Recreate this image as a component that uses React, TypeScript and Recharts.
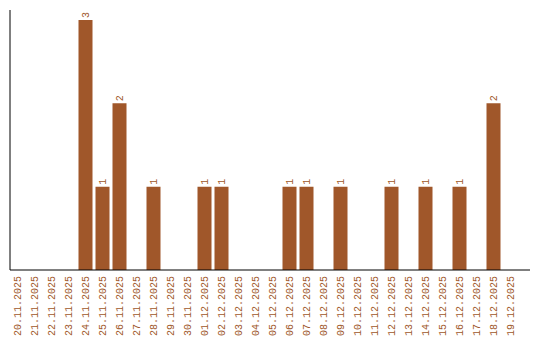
import React from 'react'
import { BarChart, Bar, XAxis, YAxis, LabelList } from 'recharts'

const dates = [
  '20.11.2025', '21.11.2025', '22.11.2025', '23.11.2025', '24.11.2025', '25.11.2025',
  '26.11.2025', '27.11.2025', '28.11.2025', '29.11.2025', '30.11.2025', '01.12.2025',
  '02.12.2025', '03.12.2025', '04.12.2025', '05.12.2025', '06.12.2025', '07.12.2025',
  '08.12.2025', '09.12.2025', '10.12.2025', '11.12.2025', '12.12.2025', '13.12.2025',
  '14.12.2025', '15.12.2025', '16.12.2025', '17.12.2025', '18.12.2025', '19.12.2025',
]
const counts = [0, 0, 0, 0, 3, 1, 2, 0, 1, 0, 0, 1, 1, 0, 0, 0, 1, 1, 0, 1, 0, 0, 1, 0, 1, 0, 1, 0, 2, 0]

const data = dates.map((d, i) => ({ date: d, count: counts[i] }))

const BROWN = '#A0572A'
const FONT = '"Liberation Mono", monospace'

function DateTick(props: any) {
  const { x, y, payload } = props
  return (
    <g transform={`translate(${x + 3.5},${y}) rotate(-90)`}>
      <text textAnchor="end" fontSize={10} fontFamily={FONT} fill={BROWN}>
        {payload.value}
      </text>
    </g>
  )
}

function TopLabel(props: any) {
  const { x, y, width, value } = props
  if (!value) return null
  return (
    <g transform={`translate(${x + width / 2 + 3.5},${y - 2}) rotate(-90)`}>
      <text textAnchor="start" fontSize={10} fontFamily={FONT} fill={BROWN}>
        {value}
      </text>
    </g>
  )
}

export default function App() {
  return (
    <div style={{ position: 'fixed', left: 0, top: 0, width: 540, height: 340, background: '#fff' }}>
      <BarChart width={540} height={340} data={data} margin={{ top: 10, right: 10, bottom: 0, left: 8 }}>
        <XAxis
          dataKey="date"
          interval={0}
          height={70}
          tickLine={false}
          tickSize={0}
          tickMargin={6}
          axisLine={{ stroke: '#000' }}
          padding={{ left: -1.5, right: 11.5 }}
          tick={<DateTick />}
        />
        <YAxis width={2} domain={[0, 3.12]} tick={false} tickLine={false} axisLine={{ stroke: '#000' }} />
        <Bar dataKey="count" fill={BROWN} barSize={14} isAnimationActive={false}>
          <LabelList dataKey="count" content={<TopLabel />} />
        </Bar>
      </BarChart>
    </div>
  )
}
